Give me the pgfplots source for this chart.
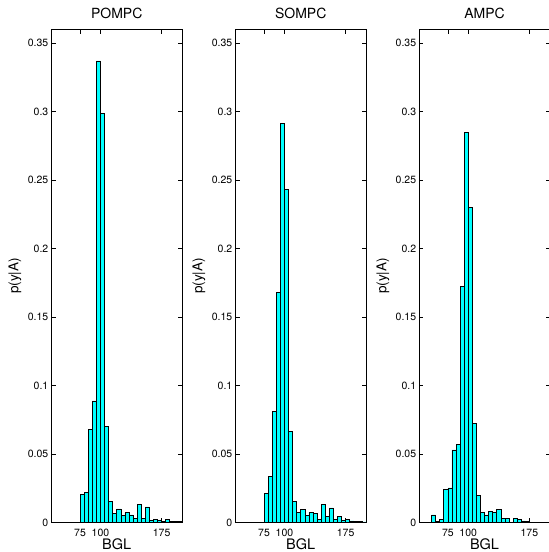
\documentclass[border=0pt]{standalone}
\usepackage{fontspec}
\setmainfont{TeX Gyre Heros}
\usepackage{pgfplots}
\pgfplotsset{compat=1.18}
\definecolor{mcyan}{RGB}{0,255,255}

\pgfplotsset{
  myax/.style={
    scale only axis, width=130.5pt, height=493pt,
    anchor=south west,
    xmin=40, xmax=200, ymin=0, ymax=0.36,
    xtick={75,100,175}, xticklabels={75,100,175},
    ytick={0,0.05,0.1,0.15,0.2,0.25,0.3,0.35},
    yticklabels={0,0.05,0.1,0.15,0.2,0.25,0.3,0.35},
    tick align=inside, xtick pos=both, ytick pos=both,
    major tick length=4pt,
    tick style={black, line width=0.6pt},
    axis line style={black, line width=0.8pt},
    tick label style={font=\fontsize{10.5}{12}\selectfont},
    xticklabel style={anchor=base, yshift=-13.7pt, inner sep=0pt},
    yticklabel style={anchor=east, xshift=-3pt, inner sep=0pt},
    every axis title/.style={at={(axis description cs:0.5,1)}, anchor=base, yshift=11pt, inner sep=0pt, font=\fontsize{14}{16}\selectfont},
    every axis x label/.style={at={(axis description cs:0.5,0)}, anchor=base, yshift=-27pt, inner sep=0pt, font=\fontsize{14.5}{16}\selectfont},
    every axis y label/.style={at={([xshift=-36.5pt]axis description cs:0,0.5)}, rotate=90, anchor=center, inner sep=0pt, font=\fontsize{13.5}{16}\selectfont},
    xlabel={BGL}, ylabel={p(y|A)},
  },
  barsty/.style={ybar interval, fill=mcyan, draw=black, line width=0.6pt},
}

\begin{document}
\begin{tikzpicture}[x=1pt,y=1pt]
\path[use as bounding box] (0,0) rectangle (549,552);

\begin{axis}[myax, at={(51.5pt,29.5pt)}, title={POMPC}]
\addplot[barsty] coordinates {
(75,0.0207) (80,0.022) (85,0.0678) (90,0.0888) (95,0.337) (100,0.299)
(105,0.070) (110,0.0156) (115,0.0068) (120,0.0099) (125,0.005) (130,0.0072)
(135,0.0055) (140,0.0028) (145,0.0133) (150,0.0028) (155,0.0114) (160,0.0018)
(165,0.0025) (170,0.0018) (175,0.0006) (180,0.002) (185,0.001) (190,0.0008)
(195,0.0006) (200,0)
};
\end{axis}

\begin{axis}[myax, at={(235.5pt,29.5pt)}, title={SOMPC}]
\addplot[barsty] coordinates {
(75,0.021) (80,0.0334) (85,0.081) (90,0.168) (95,0.2917) (100,0.2434)
(105,0.0663) (110,0.0156) (115,0.0072) (120,0.0095) (125,0.0052) (130,0.0074)
(135,0.0065) (140,0.0024) (145,0.0133) (150,0.0042) (155,0.0106) (160,0.0023)
(165,0.0042) (170,0.0013) (175,0.0024) (180,0.0011) (185,0.0009) (190,0.0008)
(195,0.0005) (200,0)
};
\end{axis}

\begin{axis}[myax, at={(419.3pt,29.5pt)}, title={AMPC}]
\addplot[barsty] coordinates {
(55,0.0055) (60,0.0008) (65,0.0022) (70,0.0243) (75,0.0252) (80,0.053)
(85,0.057) (90,0.1725) (95,0.285) (100,0.230) (105,0.0726) (110,0.0197)
(115,0.0074) (120,0.0055) (125,0.0079) (130,0.0074) (135,0.0095) (140,0.0031)
(145,0.0031) (150,0) (155,0.0031) (160,0.0021) (165,0.0012) (170,0.001)
(175,0)
};
\end{axis}
\end{tikzpicture}
\end{document}
